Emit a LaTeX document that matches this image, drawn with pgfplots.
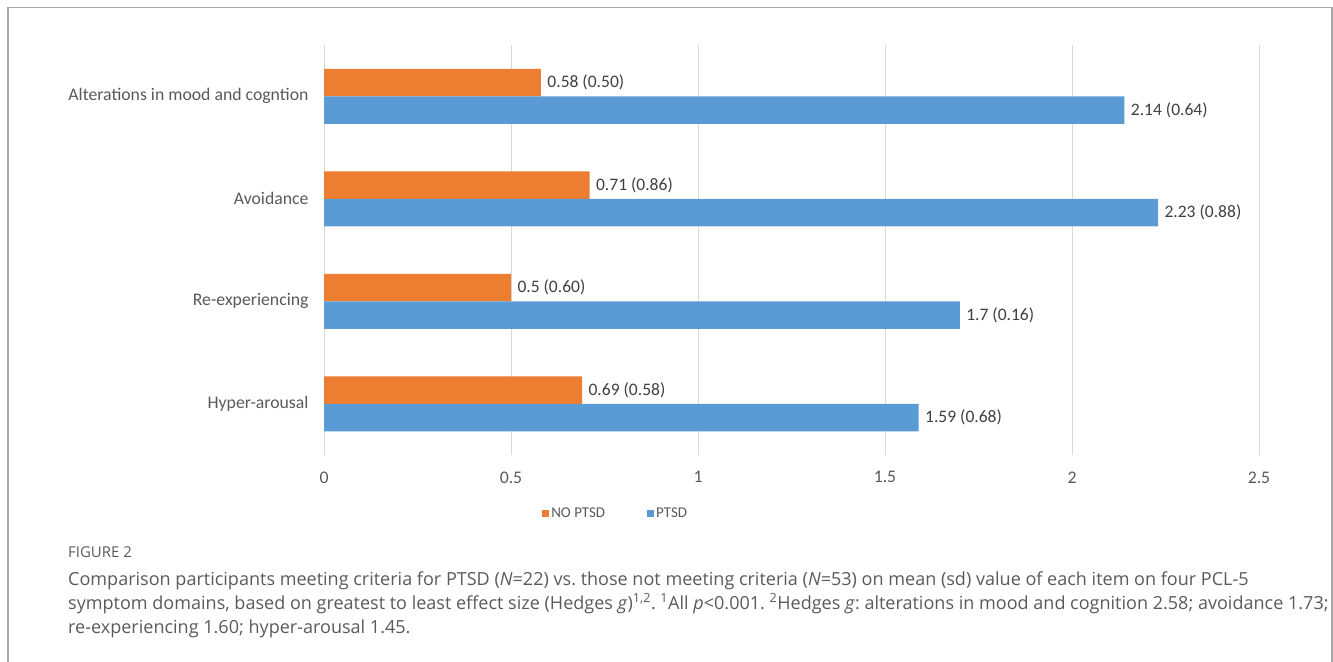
\documentclass[border=0pt]{standalone}
\usepackage{pgfplots}
\pgfplotsset{compat=1.18}
\usepackage{pgfplotstable}
\usepackage{fontspec}
\setmainfont{Carlito}
\newfontfamily\capfont{Open Sans}
\definecolor{ptsdblue}{HTML}{5B9BD5}
\definecolor{noorange}{HTML}{ED7D31}
\definecolor{lblgray}{HTML}{595959}
\definecolor{capgray}{HTML}{5A5A5A}
\pgfplotstableread[col sep=comma]{
y,nopt,pt,nolab,ptlab
0,0.69,1.59,0.69 (0.58),1.59 (0.68)
1,0.50,1.70,0.5  (0.60),1.7 (0.16)
2,0.71,2.23,0.71 (0.86),2.23 (0.88)
3,0.58,2.14,0.58 (0.50),2.14 (0.64)
}\datatab
\frenchspacing
\begin{document}
\begin{tikzpicture}
\path[use as bounding box] (0bp,0bp) rectangle (1333bp,-662bp);
\draw[gray!70, line width=1.2bp] (8bp,-670bp) -- (8bp,-7.5bp) -- (1332bp,-7.5bp) -- (1332bp,-670bp);
\begin{axis}[
  at={(324bp,-455bp)}, anchor=south west,
  scale only axis, width=935bp, height=410bp,
  xbar, bar width=27.5bp,
  xmin=0, xmax=2.5, ymin=-0.5, ymax=3.5,
  axis line style={draw=none},
  xtick={0,0.5,1,1.5,2,2.5},
  xticklabels={0,0.5,1,1.5,2,2.5},
  ytick={0,1,2,3},
  yticklabels={Hyper-arousal,Re-experiencing,Avoidance,Alterations in mood and cogntion},
  major tick length=0pt,
  xmajorgrids, major grid style={color=black!15, line width=0.8bp},
  tick label style={font=\fontsize{17.8}{19}\selectfont, text=lblgray},
  xticklabel style={yshift=-13bp},
  yticklabel style={xshift=-12bp},
  nodes near coords,
  point meta=explicit symbolic,
  nodes near coords style={font=\fontsize{17.6}{19}\selectfont, text=black!75, anchor=west, xshift=3bp},
  legend style={at={(0.312,-0.1415)}, anchor=center, draw=none, fill=none,
    legend columns=2, font=\fontsize{15}{17}\selectfont, text=lblgray,
    /tikz/every even column/.append style={column sep=40bp}},
  legend image code/.code={\fill[#1] (0bp,-3.5bp) rectangle (7bp,3.5bp);},
]
\addplot[fill=noorange, draw=none, bar shift=13.75bp] table[x=nopt, y=y, meta=nolab] {\datatab};
\addplot[fill=ptsdblue, draw=none, bar shift=-13.75bp] table[x=pt, y=y, meta=ptlab] {\datatab};
\legend{NO PTSD, PTSD}
\end{axis}
\node[anchor=base west, inner sep=0pt, font=\capfont\fontsize{15}{17}\selectfont, text=capgray] at (68bp,-557bp) {FIGURE 2};
\begin{scope}[every node/.style={anchor=base west, font=\capfont\fontsize{18.1}{22}\selectfont, text=capgray, inner sep=0pt}]
\node at (68bp,-585bp) {Comparison participants meeting criteria for PTSD (\textit{N}=22) vs. those not meeting criteria (\textit{N}=53) on mean (sd) value of each item on four PCL-5};
\node at (68bp,-609bp) {symptom domains, based on greatest to least effect size (Hedges \textit{g})\textsuperscript{1,2}. \textsuperscript{1}All \textit{p}<0.001. \textsuperscript{2}Hedges \textit{g}: alterations in mood and cognition 2.58; avoidance 1.73;};
\node at (68bp,-633bp) {re-experiencing 1.60; hyper-arousal 1.45.};
\end{scope}
\end{tikzpicture}
\end{document}
